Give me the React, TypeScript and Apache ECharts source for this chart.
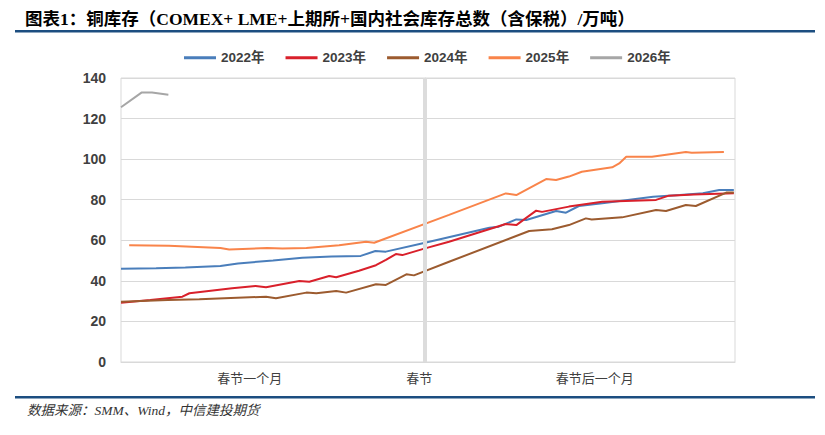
import React, { useEffect, useRef } from "react";
import * as echarts from "echarts";

const titleText = "图表1：铜库存（COMEX+ LME+上期所+国内社会库存总数（含保税）/万吨）";
const sourceText = "数据来源：SMM、Wind，中信建投期货";

const seriesNames = ["2022年", "2023年", "2024年", "2025年", "2026年"];
const seriesColors = ["#4a7ebb", "#d9202b", "#9c5b2f", "#f9844a", "#a6a6a6"];

const xLabelDays = [-30, -1, 29];
const xLabelTexts = ["春节一个月", "春节", "春节后一个月"];
const springFestivalDay = 0;

const yTicks = [0, 20, 40, 60, 80, 100, 120, 140];

const days2022 = [-52, -46, -41, -35, -32, -26, -21, -16, -11, -8.5, -6.7, 0, 11, 12.6, 15.6, 17.3, 22.4, 24.1, 26.3, 30.3, 39, 43.6, 47.5, 50.3, 52.8];
const values2022 = [46, 46.2, 46.6, 47.3, 48.6, 50, 51.4, 52, 52.3, 54.7, 54.4, 58.8, 66.2, 66.7, 70.3, 70, 74.4, 73.6, 76.9, 78.2, 81.5, 82.3, 83.2, 84.8, 84.8];

const days2023 = [-52, -47, -41.5, -40.3, -33, -29, -27.2, -21.5, -19.8, -16.4, -15.2, -11.3, -8.4, -6.7, -5, -3.9, 0, 4.1, 13.8, 15.6, 19, 20, 24.6, 30.3, 39.5, 41.7, 46, 52.8];
const values2023 = [29.2, 30.6, 32.2, 33.9, 36.3, 37.5, 36.8, 39.9, 39.6, 42.4, 41.8, 45, 47.7, 50.3, 53.2, 52.7, 56, 59.3, 68, 67.5, 74.6, 74, 76.6, 79, 79.9, 82, 82.6, 83.2];

const days2024 = [-52, -44, -38.6, -27.2, -25.5, -20.3, -18.6, -15.2, -13.5, -8.4, -6.7, -3.2, -1.9, 4.1, 17.8, 21.7, 24.6, 27.5, 28.5, 33.7, 39.5, 41.2, 44.6, 46.3, 51.5, 52.8];
const values2024 = [29.7, 30.6, 30.9, 32.2, 31.4, 34.2, 33.9, 35, 34.2, 38.3, 38, 43.2, 42.7, 49.4, 64.6, 65.4, 67.5, 70.8, 70.3, 71.3, 74.9, 74.4, 77.4, 76.9, 83.5, 83.6];

const days2025 = [-50.6, -43.8, -35, -33.5, -27, -24.4, -20.3, -14.7, -10.1, -8.7, 4.1, 13.8, 15.6, 20.7, 22.4, 24.6, 26.8, 32, 33.2, 34.4, 38.8, 44.6, 45.6, 51.1];
const values2025 = [57.5, 57.3, 56.2, 55.5, 56.2, 55.9, 56.2, 57.5, 59.3, 58.8, 72.5, 83.1, 82.3, 90.2, 89.7, 91.4, 93.8, 96, 97.9, 101.2, 101.2, 103.5, 103.2, 103.5];

const days2026 = [-52, -48.5, -46.7, -43.9];
const values2026 = [125.6, 132.8, 132.8, 131.8];

const allDays = [days2022, days2023, days2024, days2025, days2026];
const allValues = [values2022, values2023, values2024, values2025, values2026];

const latinCjk = "'Liberation Sans', 'Noto Sans CJK SC', sans-serif";
const serifCjk = "'Liberation Serif', 'Noto Sans CJK SC', serif";

export default function App() {
  const ref = useRef<HTMLDivElement>(null);

  useEffect(() => {
    if (!ref.current) return;
    const chart = echarts.init(ref.current, undefined, { renderer: "svg" });

    const lineSeries = seriesNames.map((name, i) => ({
      name,
      type: "line",
      symbol: "none",
      z: 3,
      data: allDays[i].map((d, j) => [d, allValues[i][j]]),
      lineStyle: { color: seriesColors[i], width: 2 },
      itemStyle: { color: seriesColors[i] },
    }));

    const option: any = {
      animation: false,
      title: {
        text: titleText,
        left: 20,
        top: 5,
        textStyle: { fontSize: 17.5, fontWeight: "bold", fontFamily: serifCjk, color: "#000" },
      },
      legend: {
        data: seriesNames,
        top: 46,
        left: 179,
        icon: "rect",
        itemWidth: 32,
        itemHeight: 3,
        itemGap: 21,
        textStyle: { color: "#404040", fontSize: 13.5, fontWeight: "bold", fontFamily: latinCjk },
      },
      grid: {
        left: 121,
        right: 90,
        top: 78,
        bottom: 73,
        show: true,
        borderColor: "#d9d9d9",
        borderWidth: 1,
      },
      xAxis: {
        type: "value",
        min: -52,
        max: 53,
        axisLine: { show: true, lineStyle: { color: "#d9d9d9" } },
        axisTick: { show: false },
        splitLine: { show: false },
        axisLabel: {
          customValues: xLabelDays,
          formatter: (v: number) => {
            const idx = xLabelDays.indexOf(v);
            return idx >= 0 ? xLabelTexts[idx] : "";
          },
          color: "#404040",
          fontSize: 13,
          margin: 10,
          fontFamily: latinCjk,
        },
      },
      yAxis: {
        type: "value",
        min: yTicks[0],
        max: yTicks[yTicks.length - 1],
        interval: 20,
        axisLine: { show: true, lineStyle: { color: "#d9d9d9" } },
        axisTick: { show: false },
        splitLine: { show: true, lineStyle: { color: "#d9d9d9" } },
        axisLabel: { color: "#404040", fontSize: 14, fontWeight: "bold", margin: 15, fontFamily: latinCjk },
      },
      graphic: [
        { type: "rect", shape: { x: 15, y: 30, width: 800, height: 2.5 }, style: { fill: "#1c4e80" } },
        { type: "rect", shape: { x: 15, y: 396, width: 800, height: 2.5 }, style: { fill: "#1c4e80" } },
        {
          type: "text",
          left: 27,
          top: 404,
          style: {
            text: sourceText,
            fontSize: 13.5,
            fontStyle: "italic",
            fontFamily: serifCjk,
            fill: "#333",
          },
        },
      ],
      series: [
        {
          name: "springFestival",
          type: "line",
          data: [],
          z: 1,
          markLine: {
            silent: true,
            symbol: ["none", "none"],
            label: { show: false },
            lineStyle: { color: "#dcdcdc", width: 4, type: "solid" },
            data: [{ xAxis: springFestivalDay }],
          },
        },
        ...lineSeries,
      ],
    };

    chart.setOption(option);
    return () => chart.dispose();
  }, []);

  return (
    <div
      ref={ref}
      style={{ position: "fixed", left: 0, top: 0, width: 825, height: 435, background: "#fff" }}
    />
  );
}
